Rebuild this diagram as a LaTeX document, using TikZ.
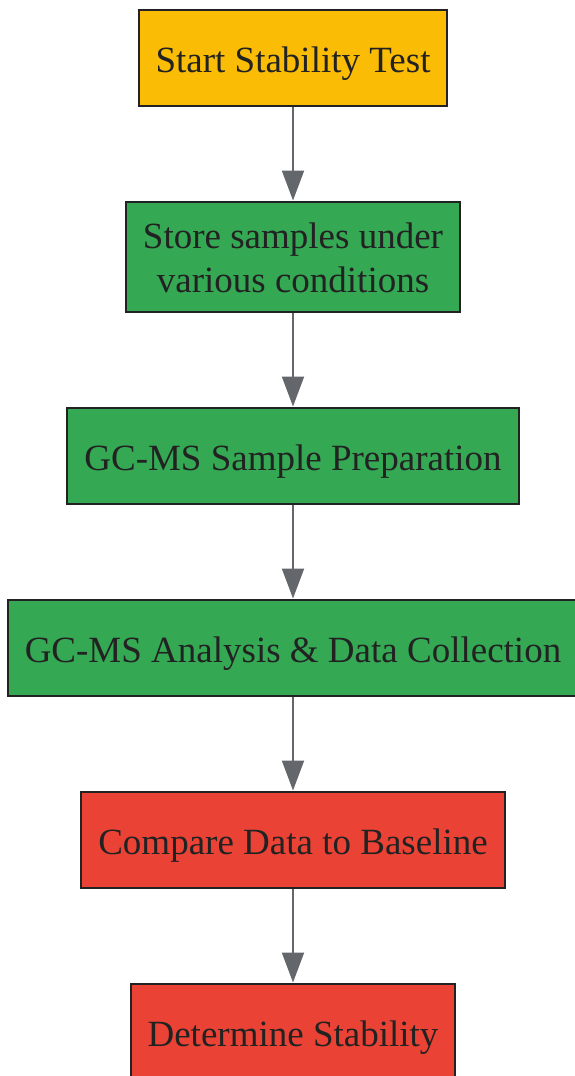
\documentclass[tikz,border=0pt]{standalone}
\usepackage{fontspec}
\setmainfont{Liberation Serif}
\usepackage{xcolor}
\usetikzlibrary{positioning, arrows.meta}
\definecolor{startfill}{HTML}{FBBC05}
\definecolor{stepfill}{HTML}{34A853}
\definecolor{endfill}{HTML}{EA4335}
\definecolor{boxline}{HTML}{222222}
\definecolor{flowline}{HTML}{63666B}

\begin{document}
\begin{tikzpicture}[node distance=94pt, x=1pt, y=1pt,
		box/.style={draw=boxline, line width=2pt, text=boxline, align=center,
			font=\fontsize{37}{44}\selectfont, inner xsep=17pt, minimum height=96pt,
			text height=33pt, text depth=4pt},
		flow/.style={draw=flowline, line width=2pt, -{Triangle[length=30pt, width=22pt]}}]
			\useasboundingbox (0,0) rectangle (575,-1076);

			\node[box, fill=startfill] (start) at (293,-57.5) {Start Stability Test};
			\node[box, fill=stepfill, minimum height=110pt, text height=75pt, text depth=4pt, below=of start] (store) {Store samples under\\various conditions};
			\node[box, fill=stepfill, below=of store] (prep) {GC-MS Sample Preparation};
			\node[box, fill=stepfill, below=of prep] (analysis) {GC-MS Analysis \& Data Collection};
			\node[box, fill=endfill, below=of analysis] (compare) {Compare Data to Baseline};
			\node[box, fill=endfill, below=of compare] (decide) {Determine Stability};

			\draw
			(start) edge[flow] (store)
			(store) edge[flow] (prep)
			(prep) edge[flow] (analysis)
			(analysis) edge[flow] (compare)
			(compare) edge[flow] (decide);
		\end{tikzpicture}
\end{document}
